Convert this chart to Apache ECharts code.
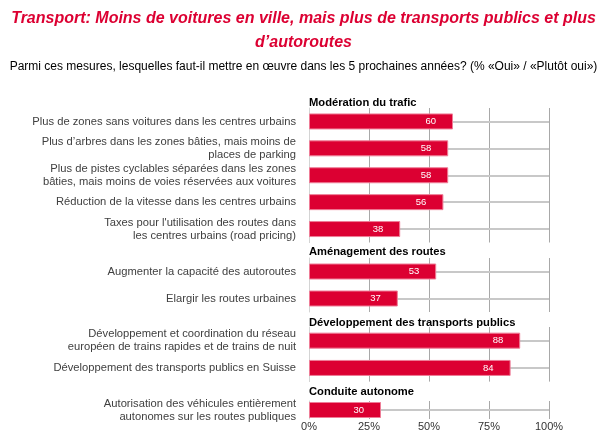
<!DOCTYPE html>
<html><head><meta charset="utf-8">
<script src="https://cdn.jsdelivr.net/npm/echarts@6/dist/echarts.min.js"></script>
<style>html,body{margin:0;padding:0;background:#fff}#c{width:607px;height:439px}</style>
</head><body><div id="c"></div>
<script>
const titleLines = ["Transport: Moins de voitures en ville, mais plus de transports publics et plus", "d’autoroutes"];
const subtitleText = "Parmi ces mesures, lesquelles faut-il mettre en œuvre dans les 5 prochaines années? (% «Oui» / «Plutôt oui»)";
const groupHeaders = ["Modération du trafic", "Aménagement des routes", "Développement des transports publics", "Conduite autonome"];
const cats1 = ["Plus de zones sans voitures dans les centres urbains",
  "Plus d’arbres dans les zones bâties, mais moins de\nplaces de parking",
  "Plus de pistes cyclables séparées dans les zones\nbâties, mais moins de voies réservées aux voitures",
  "Réduction de la vitesse dans les centres urbains",
  "Taxes pour l'utilisation des routes dans\nles centres urbains (road pricing)"];
const vals1 = [60, 58, 58, 56, 38];
const cats2 = ["Augmenter la capacité des autoroutes", "Elargir les routes urbaines"];
const vals2 = [53, 37];
const cats3 = ["Développement et coordination du réseau\neuropéen de trains rapides et de trains de nuit",
  "Développement des transports publics en Suisse"];
const vals3 = [88, 84];
const cats4 = ["Autorisation des véhicules entièrement\nautonomes sur les routes publiques"];
const vals4 = [30];
const tickLabels = ["0%", "25%", "50%", "75%", "100%"];

const groups = [[cats1, vals1], [cats2, vals2], [cats3, vals3], [cats4, vals4]];
const gridTops = [108, 258, 327, 401];
const gridHeights = [134.5, 54, 54.6, 18];
const headerY = [97.5, 246, 317, 386];
const RED = '#dc0032';
const FONT = 'Liberation Sans, Arial';

const chart = echarts.init(document.getElementById('c'), null, {renderer: 'canvas'});
const grid = [], xAxis = [], yAxis = [], series = [];
const titleStyle = {fontFamily: FONT, fontSize: 16, fontStyle: 'italic', fontWeight: 'bold', color: RED};
const titles = [
  {text: titleLines[0], left: 'center', top: 11, padding: 0, textStyle: titleStyle},
  {text: titleLines[1], left: 'center', top: 35, padding: 0, textStyle: titleStyle},
  {text: subtitleText, left: 'center', top: 61, padding: 0,
   textStyle: {fontFamily: FONT, fontSize: 12, fontWeight: 'normal', color: '#000'}}
];
groups.forEach((g, i) => {
  grid.push({left: 309, width: 240, top: gridTops[i], height: gridHeights[i], containLabel: false});
  xAxis.push({type: 'value', gridIndex: i, min: 0, max: 100, interval: 25,
    axisLine: {show: false}, axisTick: {show: false},
    splitLine: {show: true, lineStyle: {color: '#a8a8a8', width: 1}},
    axisLabel: {show: i === 3, margin: 2, color: '#333', fontSize: 11, fontFamily: FONT,
      formatter: v => tickLabels[v / 25]}});
  yAxis.push({type: 'category', gridIndex: i, data: g[0], inverse: true,
    axisLine: {show: true, lineStyle: {color: '#d4d4d4', width: 1}},
    axisTick: {show: true, inside: true, length: 240, alignWithLabel: true, lineStyle: {color: '#c8c8c8', width: 2}},
    axisLabel: {margin: 13, color: '#404040', fontSize: 11.2, lineHeight: 13, fontFamily: FONT, align: 'right'}});
  series.push({type: 'bar', xAxisIndex: i, yAxisIndex: i, data: g[1], barWidth: 16,
    itemStyle: {color: RED, borderColor: '#ef7d97', borderWidth: 1},
    label: {show: true, position: 'insideRight', distance: 17, color: '#fff', fontSize: 9.5, fontFamily: FONT}});
  titles.push({text: groupHeaders[i], left: 309, top: headerY[i], padding: 0,
    textStyle: {fontFamily: FONT, fontSize: 11.2, fontWeight: 'bold', color: '#000'}});
});
chart.setOption({animation: false, title: titles, grid, xAxis, yAxis, series});
</script></body></html>
